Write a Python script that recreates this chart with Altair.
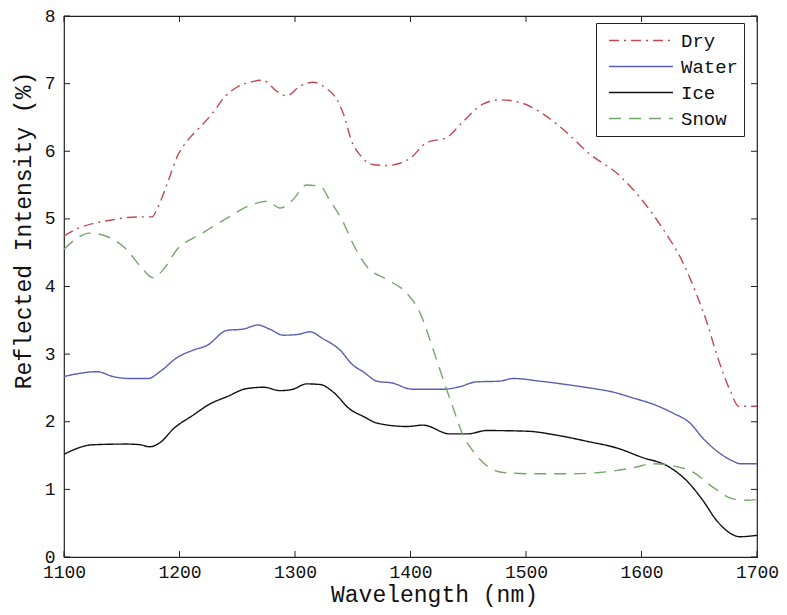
import altair as alt
import pandas as pd

series_names = ["Dry", "Water", "Ice", "Snow"]
series_colors = ["#c24a4f", "#5a5fb0", "#111111", "#74a867"]
series_dashes = [[10, 5, 2, 5], [1, 0], [1, 0], [12, 8]]

dry_wl = [1100, 1112, 1125, 1140, 1155, 1168, 1176, 1182, 1190, 1198, 1208, 1218, 1228, 1240, 1250,
          1261, 1272, 1284, 1293, 1304, 1316, 1327, 1335, 1342, 1349, 1357, 1368, 1380, 1392, 1400,
          1414, 1431, 1445, 1463, 1477, 1495, 1515, 1535, 1555, 1579, 1598, 1619, 1636, 1648, 1657,
          1665, 1677, 1684, 1700]
dry_val = [4.75, 4.86, 4.93, 4.98, 5.02, 5.03, 5.03, 5.2, 5.55, 5.92, 6.18, 6.36, 6.55, 6.82, 6.95,
           7.02, 7.05, 6.89, 6.82, 6.96, 7.02, 6.93, 6.8, 6.55, 6.15, 5.93, 5.8, 5.79, 5.83, 5.9,
           6.13, 6.2, 6.43, 6.7, 6.76, 6.72, 6.55, 6.28, 5.96, 5.67, 5.33, 4.84, 4.35, 3.87, 3.45,
           3.0, 2.45, 2.23, 2.23]

water_wl = [1100, 1129, 1142, 1157, 1173, 1183, 1198, 1212, 1224, 1241, 1255, 1268, 1278, 1290, 1302,
            1313, 1324, 1339, 1350, 1359, 1371, 1385, 1398, 1402, 1428, 1443, 1457, 1477, 1489, 1512,
            1535, 1555, 1575, 1593, 1610, 1627, 1642, 1653, 1665, 1679, 1685, 1700]
water_val = [2.67, 2.74, 2.67, 2.64, 2.64, 2.74, 2.95, 3.06, 3.13, 3.35, 3.37, 3.43, 3.37, 3.28, 3.29,
             3.33, 3.23, 3.06, 2.84, 2.74, 2.6, 2.57, 2.49, 2.48, 2.48, 2.52, 2.59, 2.6, 2.64, 2.6,
             2.55, 2.5, 2.44, 2.35, 2.26, 2.13, 1.98, 1.76, 1.57, 1.42, 1.38, 1.38]

ice_wl = [1100, 1125, 1154, 1166, 1174, 1183, 1195, 1212, 1226, 1241, 1258, 1273, 1287, 1298, 1310,
          1322, 1333, 1348, 1359, 1371, 1397, 1411, 1434, 1449, 1466, 1501, 1527, 1553, 1579, 1601,
          1622, 1639, 1653, 1665, 1677, 1685, 1700]
ice_val = [1.52, 1.66, 1.67, 1.66, 1.63, 1.69, 1.9, 2.1, 2.26, 2.37, 2.49, 2.51, 2.46, 2.48, 2.56,
           2.55, 2.44, 2.18, 2.08, 1.98, 1.93, 1.95, 1.82, 1.82, 1.87, 1.86, 1.8, 1.71, 1.61, 1.47,
           1.35, 1.13, 0.84, 0.54, 0.35, 0.3, 0.32]

snow_wl = [1100, 1110, 1122, 1140, 1154, 1166, 1177, 1186, 1198, 1218, 1241, 1261, 1276, 1287, 1298,
           1310, 1322, 1330, 1342, 1350, 1362, 1380, 1395, 1408, 1420, 1428, 1437, 1445, 1454, 1466,
           1480, 1506, 1535, 1564, 1593, 1610, 1627, 1645, 1662, 1679, 1691, 1700]
snow_val = [4.55, 4.7, 4.79, 4.72, 4.55, 4.3, 4.13, 4.25, 4.55, 4.77, 5.01, 5.2, 5.26, 5.16, 5.28,
            5.5, 5.48, 5.28, 4.94, 4.64, 4.3, 4.1, 3.93, 3.62, 3.05, 2.64, 2.2, 1.82, 1.57, 1.35,
            1.25, 1.23, 1.23, 1.25, 1.32, 1.38, 1.35, 1.25, 1.03, 0.86, 0.84, 0.85]

x_ticks = [1100, 1200, 1300, 1400, 1500, 1600, 1700]
y_ticks = [0, 1, 2, 3, 4, 5, 6, 7, 8]

rows = []
for name, xs, ys in [("Dry", dry_wl, dry_val), ("Water", water_wl, water_val),
                     ("Ice", ice_wl, ice_val), ("Snow", snow_wl, snow_val)]:
    for x, y in zip(xs, ys):
        rows.append({"Series": name, "wl": x, "val": y})
df = pd.DataFrame(rows)

FONT = "Liberation Mono"
W, H = 693, 541
TICK = 6

xscale = alt.Scale(domain=[1100, 1700], nice=False, zero=False)
yscale = alt.Scale(domain=[0, 8], nice=False, zero=True)

x_axis = alt.Axis(values=x_ticks, title="Wavelength (nm)", format="d",
                  labelFont=FONT, labelFontSize=18, labelColor="#111111",
                  labelPadding=6, labelFlush=False, titleFont=FONT, titleFontSize=23,
                  titleFontWeight="normal", titleColor="#111111", titlePadding=2,
                  titleX=370, tickSize=0, domain=False, grid=False)
y_axis = alt.Axis(values=y_ticks, title="Reflected Intensity (%)",
                  labelFont=FONT, labelFontSize=18, labelColor="#111111",
                  labelPadding=9, labelFlush=False, titleFont=FONT, titleFontSize=23,
                  titleFontWeight="normal", titleColor="#111111", titlePadding=9,
                  titleY=214, tickSize=0, domain=False, grid=False)

legend = alt.Legend(
    title=None, orient="none", legendX=532, legendY=7,
    symbolType="stroke", symbolSize=4096, symbolStrokeWidth=1.4, symbolOffset=7,
    clipHeight=25, rowPadding=1, labelFont=FONT, labelFontSize=19,
    labelColor="#111111", labelOffset=7, padding=5,
    strokeColor="#222222", fillColor="white", labelLimit=300,
)

lines = alt.Chart(df).mark_line(strokeWidth=1.4, interpolate="monotone").encode(
    x=alt.X("wl:Q", scale=xscale, axis=x_axis),
    y=alt.Y("val:Q", scale=yscale, axis=y_axis),
    color=alt.Color("Series:N", scale=alt.Scale(domain=series_names, range=series_colors),
                    legend=legend),
    strokeDash=alt.StrokeDash("Series:N", scale=alt.Scale(domain=series_names, range=series_dashes),
                              legend=legend),
)

xt = pd.DataFrame({"t": x_ticks})
yt = pd.DataFrame({"t": y_ticks})
tick_style = dict(color="#222222", strokeWidth=1)

bottom_ticks = alt.Chart(xt).mark_rule(**tick_style).encode(
    x=alt.X("t:Q", scale=xscale, axis=x_axis), y=alt.value(H), y2=alt.value(H - TICK))
top_ticks = alt.Chart(xt).mark_rule(**tick_style).encode(
    x=alt.X("t:Q", scale=xscale, axis=x_axis), y=alt.value(0), y2=alt.value(TICK))
left_ticks = alt.Chart(yt).mark_rule(**tick_style).encode(
    y=alt.Y("t:Q", scale=yscale, axis=y_axis), x=alt.value(0), x2=alt.value(TICK))
right_ticks = alt.Chart(yt).mark_rule(**tick_style).encode(
    y=alt.Y("t:Q", scale=yscale, axis=y_axis), x=alt.value(W), x2=alt.value(W - TICK))

chart = alt.layer(lines, bottom_ticks, top_ticks, left_ticks, right_ticks).properties(
    width=W, height=H,
    autosize=alt.AutoSizeParams(type="none"),
    padding={"left": 56, "top": 8, "right": 22, "bottom": 50},
    background="white",
).configure_view(stroke="#222222", strokeWidth=1.2)

chart.save("out.html", embed_options={"renderer": "svg", "actions": False})
